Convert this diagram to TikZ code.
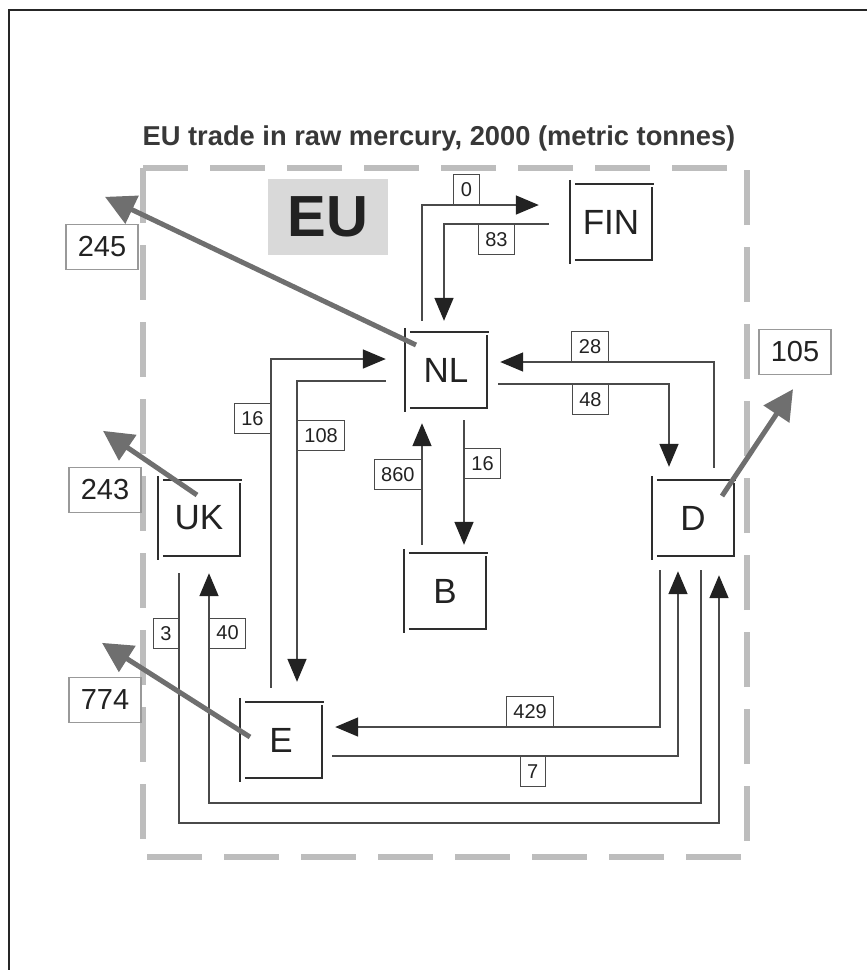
\documentclass[tikz,border=0pt]{standalone}
\usepackage{fontspec}
\setmainfont{Liberation Sans}
\usepackage{tikz}
\usetikzlibrary{arrows.meta,positioning}
\definecolor{cFrame}{HTML}{BDBDBD}
\definecolor{cBox}{HTML}{2E2E2E}
\definecolor{cFlow}{HTML}{4A4A4A}
\definecolor{cExport}{HTML}{6F6F6F}
\definecolor{cTag}{HTML}{D9D9D9}
\definecolor{cText}{HTML}{222222}
\tikzset{
  ctry/.style   ={minimum width=82pt, minimum height=76pt, inner sep=0pt, text=cText,
                  font=\fontsize{35}{40}\selectfont},
  boxedge/.style={line width=2.2pt, draw=cBox},
  num/.style    ={draw=cFlow, line width=0.9pt, fill=white, text=cText, inner xsep=7pt, inner ysep=0pt,
                  minimum height=30pt, font=\fontsize{20}{23}\selectfont},
  expo/.style   ={draw=black!40, line width=1.3pt, fill=white, text=cText, inner sep=0pt,
                  minimum width=72pt, minimum height=45pt, font=\fontsize{29}{32}\selectfont},
  flow/.style   ={-{Triangle[length=23pt,width=19pt,color=cText]}, line width=1.6pt, draw=cFlow},
  exparrow/.style={-{Triangle[length=30pt,width=30pt]}, line width=5pt, draw=cExport},
  euframe/.style={line width=6pt, draw=cFrame, dash pattern=on 55pt off 22pt},
}

\begin{document}
\begin{tikzpicture}[x=1pt, y=-1pt]
  \useasboundingbox (0,0) rectangle (867,970);
  \draw[line width=2.5pt, black!85] (9,970) -- (9,10) -- (867,10);
  \node[font=\bfseries\fontsize{27.3}{30}\selectfont, text=black!78] (title) at (439,138)
    {EU trade in raw mercury, 2000 (metric tonnes)};
  \draw[euframe] (143,168) rectangle (747,857);
  \node[fill=cTag, minimum width=120pt, minimum height=76pt, text=cText,
        font=\bfseries\fontsize{58}{62}\selectfont] (EUtag) at (328,217) {EU};

  % member states
  \node[ctry] (FIN) at (611,222) {FIN};
  \node[ctry] (NL)  at (446,370) {NL};
  \node[ctry] (UK)  at (199,518) {UK};
  \node[ctry] (B)   at (445,591) {B};
  \node[ctry] (D)   at (693,518) {D};
  \node[ctry] (E)   at (281,740) {E};
  \foreach \n in {FIN,NL,UK,B,D,E}{
    \draw[boxedge] ([yshift=4pt]\n.north west) -- ([yshift=-4pt]\n.south west);
    \draw[boxedge] ([xshift=5pt]\n.north west) -- ([xshift=2pt]\n.north east);
    \draw[boxedge] ([yshift=-3pt]\n.north east) -- (\n.south east);
    \draw[boxedge] ([xshift=5pt]\n.south west) -- ([xshift=1pt]\n.south east);
  }

  % exports outside the EU
  \node[expo] (ex245) at (102,247) {245};
  \node[expo] (ex105) at (795,352) {105};
  \node[expo] (ex243) at (105,490) {243};
  \node[expo] (ex774) at (105,700) {774};

  % flows between member states
  \draw[flow] ([xshift=-24pt,yshift=11pt]NL.north) |- node[num, pos=0.69, anchor=south]{0} ([xshift=-31pt,yshift=17pt]FIN.west);
  \draw[flow] ([xshift=-21pt,yshift=-2pt]FIN.west) -| node[num, pos=0.25, anchor=north]{83} ([xshift=-2pt,yshift=11pt]NL.north);
  \draw[flow] ([xshift=21pt,yshift=12pt]D.north) |- node[num, pos=0.79, anchor=south]{28} ([xshift=13pt,yshift=8pt]NL.east);
  \draw[flow] ([xshift=11pt,yshift=-14pt]NL.east) -| node[num, pos=0.27, anchor=north]{48} ([xshift=-24pt,yshift=13pt]D.north);
  \draw[flow] ([xshift=-23pt,yshift=8pt]B.north) -- node[num, pos=0.58, anchor=east]{860} ([xshift=-24pt,yshift=-15pt]NL.south);
  \draw[flow] ([xshift=18pt,yshift=-12pt]NL.south) -- node[num, pos=0.35, anchor=west]{16} ([xshift=19pt,yshift=8pt]B.north);
  \draw[flow] ([xshift=-10pt,yshift=14pt]E.north) |- node[num, pos=0.41, anchor=east]{16} ([xshift=-19pt,yshift=11pt]NL.west);
  \draw[flow] ([xshift=-19pt,yshift=-11pt]NL.west) -| node[num, pos=0.59, anchor=west]{108} ([xshift=16pt,yshift=20pt]E.north);
  \draw[flow] ([xshift=-33pt,yshift=-14pt]D.south) |- node[num, pos=0.7, anchor=south]{429} ([xshift=13pt,yshift=13pt]E.east);
  \draw[flow] ([xshift=10pt,yshift=-16pt]E.east) -| node[num, pos=0.29, anchor=north]{7} ([xshift=-15pt,yshift=-15pt]D.south);
  \draw[flow] ([xshift=8pt,yshift=-14pt]D.south) |- ([xshift=10pt,yshift=-247pt]UK.south)
    -- node[num, pos=0.74, anchor=west]{40} ([xshift=10pt,yshift=-17pt]UK.south);
  \draw[flow] ([xshift=-20pt,yshift=-17pt]UK.south) |- node[num, pos=0.12, anchor=east]{3} ([xshift=26pt,yshift=-267pt]D.south)
    -- ([xshift=26pt,yshift=-19pt]D.south);

  % exports
  \draw[exparrow] ([xshift=-30pt,yshift=25pt]NL.center) -- ([xshift=3pt,yshift=27pt]ex245.north);
  \draw[exparrow] ([xshift=-2pt,yshift=23pt]UK.center) -- ([xshift=-2pt,yshift=36pt]ex243.north);
  \draw[exparrow] ([xshift=-31pt,yshift=3pt]E.center) -- ([xshift=-3pt,yshift=34pt]ex774.north);
  \draw[exparrow] ([xshift=29pt,yshift=22pt]D.center) -- ([xshift=-2pt,yshift=-14pt]ex105.south);
\end{tikzpicture}
\end{document}
